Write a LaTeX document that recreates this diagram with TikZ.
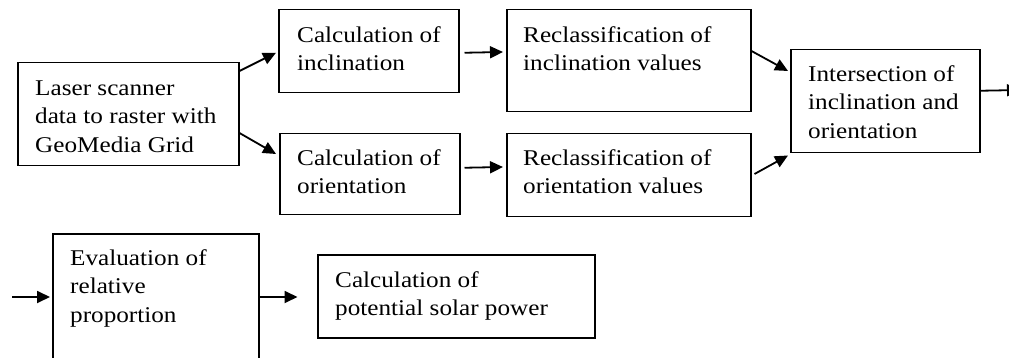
\documentclass[tikz,border=0pt]{standalone}
\usepackage{fontspec}
\setmainfont[FakeStretch=1.12]{Liberation Serif}
\usetikzlibrary{arrows.meta,calc}
\tikzset{
  box/.style={draw, line width=1.5pt, rectangle, inner sep=0pt, anchor=north west},
  txt/.style={anchor=north west, inner sep=0pt, align=left, font=\fontsize{22.5}{28.5}\selectfont},
  arr/.style={line width=1.8pt, -{Triangle[length=13pt,width=12pt]}}
}
\begin{document}
\begin{tikzpicture}[x=1pt,y=-1pt]
\useasboundingbox (0,0) rectangle (1009,358);
% boxes
\node[box, minimum width=221, minimum height=103] (laser) at (17,62) {};
\node[box, minimum width=180, minimum height=83] (cinc) at (278,9) {};
\node[box, minimum width=180, minimum height=81] (cori) at (279,133) {};
\node[box, minimum width=244, minimum height=102] (rinc) at (506,9) {};
\node[box, minimum width=244, minimum height=83] (rori) at (506,133) {};
\node[box, minimum width=189, minimum height=103] (inter) at (790,49) {};
\node[box, minimum width=206, minimum height=140] (eval) at (52,233) {};
\node[box, minimum width=277, minimum height=83] (solar) at (317,254) {};
% texts
\node[txt] (tlaser) at ($(laser.north west)+(18,13)$) {\strut Laser scanner\\data to raster with\\GeoMedia Grid};
\node[txt] (tcinc) at ($(cinc.north west)+(19,13)$) {\strut Calculation of\\inclination};
\node[txt] (tcori) at ($(cori.north west)+(18,12)$) {\strut Calculation of\\orientation};
\node[txt] (trinc) at ($(rinc.north west)+(17,13)$) {\strut Reclassification of\\inclination values};
\node[txt] (trori) at ($(rori.north west)+(17,12)$) {\strut Reclassification of\\orientation values};
\node[txt] (tinter) at ($(inter.north west)+(18,12)$) {\strut Intersection of\\inclination and\\orientation};
\node[txt] (teval) at ($(eval.north west)+(18,12)$) {\strut Evaluation of\\relative\\proportion};
\node[txt] (tsolar) at ($(solar.north west)+(18,13)$) {\strut Calculation of\\potential solar power};
% free ends
\coordinate (out) at (1020,90);
\coordinate (in) at (12,297);
% connectors
\draw[arr] ($(laser.north east)+(0,9)$) -- ($(cinc.west)+(-2,1.5)$);
\draw[arr] ($(laser.north east)+(0,71)$) -- ($(cori.north west)+(-3,21)$);
\draw[arr] ($(cinc.east)+(5,1.5)$) -- ($(rinc.north west)+(-3,43)$);
\draw[arr] ($(cori.east)+(4,-6.5)$) -- ($(rori.north west)+(-3,34)$);
\draw[arr] ($(rinc.north east)+(0,42)$) -- ($(inter.north west)+(-2,22)$);
\draw[arr] ($(rori.north east)+(3,41)$) -- ($(inter.south west)+(-2,2)$);
\draw[arr] ($(inter.east)+(0,-10.5)$) -- (out);
\draw[arr] (in) -- ($(eval.north west)+(-2,64)$);
\draw[arr] ($(eval.north east)+(0,64)$) -- ($(eval.north east)+(38,64)$);
\end{tikzpicture}
\end{document}
